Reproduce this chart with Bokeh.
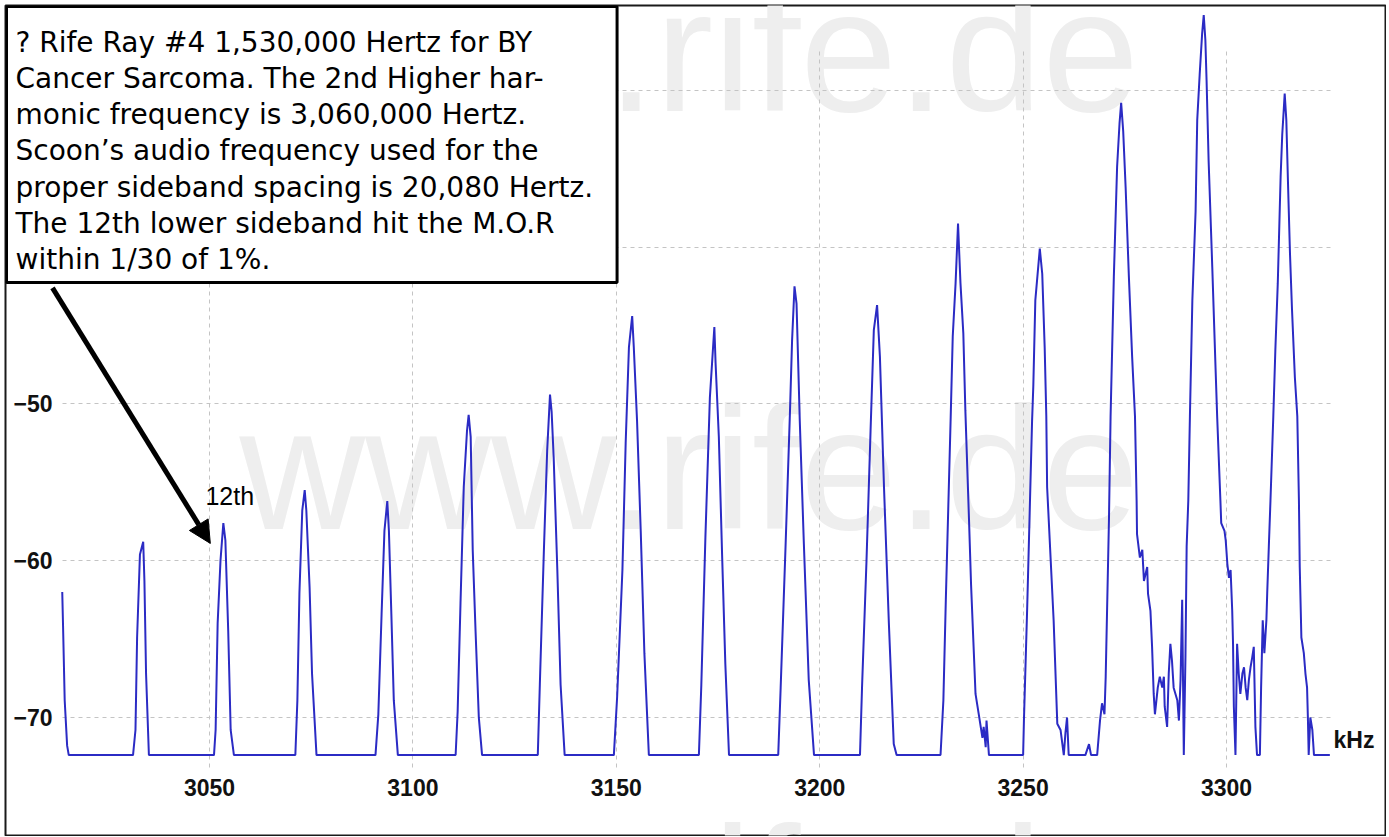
from bokeh.plotting import figure
from bokeh.models import Label, Arrow, NormalHead, FixedTicker, Range1d
from bokeh.embed import file_html
from bokeh.resources import INLINE

# Spectrum trace: frequency (kHz) and level (dB)
freq_khz = [
    3013.8, 3014.0, 3014.4, 3015.0, 3015.4,
    3031.2, 3031.8, 3032.2, 3032.9, 3033.7, 3034.0, 3034.4, 3035.1,
    3051.1, 3051.5, 3052.0, 3052.7, 3053.4, 3053.9, 3054.6, 3055.2, 3056.0,
    3071.1, 3071.6, 3072.1, 3072.8, 3073.4, 3073.8, 3074.6, 3075.2, 3076.3,
    3090.8, 3091.5, 3092.3, 3093.0, 3093.7, 3094.1, 3094.7, 3095.3, 3096.3,
    3110.5, 3111.0, 3111.7, 3112.5, 3113.3, 3113.7, 3114.2, 3114.7, 3115.4, 3116.2, 3117.0,
    3130.7, 3131.2, 3132.2, 3133.0, 3133.7, 3134.1, 3134.6, 3135.5, 3136.3, 3137.3,
    3149.4, 3150.2, 3151.5, 3152.3, 3153.1, 3153.9, 3154.3, 3155.1, 3156.0, 3156.9, 3158.0,
    3170.3, 3170.9, 3171.9, 3173.0, 3174.1, 3174.4, 3175.2, 3176.0, 3176.8, 3177.7,
    3189.8, 3190.4, 3191.6, 3192.7, 3193.2, 3193.8, 3194.3, 3195.1, 3196.1, 3197.3, 3198.6,
    3209.9, 3210.4, 3211.5, 3212.5, 3213.3, 3214.1, 3214.8, 3215.8, 3217.0, 3218.2, 3218.9,
    3229.7, 3230.4, 3231.0, 3232.2, 3232.7, 3233.4, 3234.0, 3234.6, 3235.3, 3235.8, 3236.7,
    3237.2, 3238.3, 3239.1, 3240.0, 3240.3, 3240.8, 3241.0, 3241.6,
    3250.0, 3250.2, 3251.0, 3252.2, 3252.5, 3253.0, 3254.1, 3254.7, 3255.3, 3255.7, 3255.9,
    3257.5, 3258.4, 3259.2, 3260.0, 3260.4, 3260.8, 3261.2, 3265.3, 3266.2, 3266.7, 3268.2,
    3268.9, 3269.4, 3270.0, 3270.3,
    3271.1, 3271.5, 3272.3, 3273.1, 3273.7, 3274.1, 3274.6, 3275.2, 3276.0, 3276.8, 3277.5,
    3277.9, 3278.0, 3278.7, 3279.3, 3279.7, 3280.5, 3280.7, 3281.3, 3281.7, 3282.1, 3282.4,
    3283.1, 3283.6, 3284.2, 3284.6, 3284.8, 3285.4, 3285.8, 3286.2, 3286.6, 3287.0, 3287.9,
    3288.3, 3288.7, 3289.1, 3289.5, 3289.9, 3290.2, 3290.6,
    3291.0, 3291.6, 3292.4, 3292.8, 3293.4, 3294.0, 3294.4, 3294.8, 3295.1, 3295.6, 3296.5,
    3297.3, 3297.7, 3298.5, 3298.7, 3299.5, 3299.8, 3300.2, 3300.6, 3301.0, 3301.4, 3301.6,
    3301.8, 3302.2, 3302.6, 3303.0, 3303.4, 3303.9, 3304.3, 3304.7, 3305.1, 3305.5, 3305.9,
    3306.3, 3306.7, 3307.1, 3307.5, 3308.2, 3308.5, 3308.9, 3309.3, 3309.8, 3310.0, 3310.4,
    3310.8,
    3311.5, 3312.0, 3312.6, 3313.3, 3313.7, 3314.1, 3314.3, 3314.7, 3315.1, 3315.6, 3316.1,
    3316.8, 3317.4, 3317.8, 3318.0, 3318.4, 3319.0, 3319.4, 3319.8, 3320.0, 3320.2, 3320.6,
    3321.1, 3321.5, 3325.4,
]
level_db = [
    -62.0, -64.2, -68.9, -71.8, -72.4,
    -72.4, -70.8, -64.9, -59.6, -58.8, -61.3, -67.2, -72.4,
    -72.4, -70.8, -64.0, -60.0, -57.6, -58.7, -64.5, -70.8, -72.4,
    -72.4, -68.9, -62.1, -56.8, -55.5, -56.8, -61.7, -67.2, -72.4,
    -72.4, -69.8, -63.4, -58.1, -56.2, -58.1, -63.4, -68.9, -72.4,
    -72.4, -69.6, -62.7, -55.3, -51.7, -50.7, -52.1, -59.3, -64.5, -70.0, -72.4,
    -72.4, -67.9, -59.3, -53.0, -49.4, -50.5, -53.4, -60.6, -67.9, -72.4,
    -72.4, -68.7, -60.6, -52.5, -46.4, -44.4, -46.4, -51.1, -58.1, -65.9, -72.4,
    -72.4, -67.9, -58.5, -49.6, -45.1, -47.4, -52.1, -59.6, -66.6, -72.4,
    -72.4, -68.1, -59.1, -50.4, -46.0, -42.5, -43.6, -51.1, -58.9, -67.6, -72.4,
    -72.4, -68.1, -60.0, -51.7, -45.3, -43.7, -47.0, -55.3, -64.0, -71.7, -72.4,
    -72.4, -68.9, -62.5, -50.8, -45.7, -42.3, -38.5, -42.3, -45.5, -50.4, -57.4,
    -61.5, -68.5, -69.8, -71.3, -70.6, -71.9, -70.2, -72.4,
    -72.4, -70.2, -63.0, -51.1, -48.9, -43.4, -40.1, -41.7, -46.4, -50.8, -55.3,
    -63.8, -70.4, -70.8, -72.4, -71.0, -70.0, -72.4, -72.4, -71.7, -72.4, -72.4,
    -70.2, -69.1, -69.8, -67.4,
    -57.4, -50.8, -41.9, -34.9, -32.1, -30.8, -32.6, -36.2, -41.9, -47.0, -50.8,
    -56.2, -58.3, -59.8, -59.3, -61.3, -60.4, -62.1, -63.2, -65.5, -68.5, -69.8,
    -68.1, -67.4, -68.1, -67.4, -69.3, -70.6, -67.2, -65.3, -66.4, -68.1, -68.9,
    -70.2, -67.6, -62.5, -72.4, -66.2, -59.1, -56.2,
    -50.8, -43.4, -37.7, -31.9, -29.0, -26.4, -25.2, -26.8, -29.4, -34.5, -41.3,
    -47.7, -50.8, -56.2, -57.6, -58.1, -58.7, -60.2, -61.1, -60.6, -63.2, -65.3,
    -69.3, -72.4, -65.3, -67.2, -68.5, -67.2, -66.8, -68.1, -68.9, -67.6, -66.8,
    -66.2, -65.5, -70.6, -72.4, -72.4, -68.1, -63.8, -65.9, -63.8, -62.1, -59.1,
    -56.2,
    -50.8, -46.6, -42.3, -35.5, -32.8, -31.1, -30.2, -31.9, -35.8, -40.4, -44.0,
    -48.3, -50.8, -56.2, -60.4, -64.9, -65.9, -67.2, -68.1, -70.0, -72.4, -70.0,
    -70.8, -72.4, -72.4,
]

x_ticks = [3050, 3100, 3150, 3200, 3250, 3300]
y_ticks = [-70, -60, -50, -40, -30]

# extent of the analyser's plotting area (data units)
area_f = (3013.86, 3325.56)
area_db_low = -73.19
grid_db_high = -27.3

note_lines = [
    "? Rife Ray #4 1,530,000 Hertz for BY",
    "Cancer Sarcoma. The 2nd Higher har-",
    "monic frequency is 3,060,000 Hertz.",
    "Scoon\u2019s audio frequency used for the",
    "proper sideband spacing is 20,080 Hertz.",
    "The 12th lower sideband hit the M.O.R",
    "within 1/30 of 1%.",
]
watermark_text = "www.rife.de"
marker_text = "12th"
unit_text = "kHz"

p = figure(
    width=1382, height=832,
    x_range=Range1d(2999.85, 3339.08), y_range=Range1d(-77.53, -24.59),
    output_backend="svg", toolbar_location=None, title=None,
    min_border_left=1, min_border_right=1, min_border_top=1, min_border_bottom=1,
)
p.styles = {"margin": "4px 0px 0px 4px"}
p.background_fill_color = "white"
p.border_fill_color = "white"
p.outline_line_color = "#1a1a1a"
p.outline_line_width = 2

for ax in (p.xaxis[0], p.yaxis[0]):
    ax.axis_line_color = None
    ax.major_tick_line_color = None
    ax.minor_tick_line_color = None
    ax.major_label_text_font = "Liberation Sans"
    ax.major_label_text_font_style = "bold"
    ax.major_label_text_font_size = "23px"
    ax.major_label_text_color = "#111111"
p.xaxis.ticker = FixedTicker(ticks=x_ticks)
p.yaxis.ticker = FixedTicker(ticks=y_ticks)
p.xaxis.fixed_location = area_db_low
p.yaxis.fixed_location = area_f[0]
p.xaxis.major_label_standoff = 6
p.yaxis.major_label_standoff = 4

for g in (p.xgrid[0], p.ygrid[0]):
    g.grid_line_color = "#c4c4c4"
    g.grid_line_dash = "4 4"
    g.grid_line_width = 1
try:
    p.xgrid.cross_bounds = (area_db_low, grid_db_high)
    p.ygrid.cross_bounds = area_f
except Exception:
    pass

# watermark (behind everything)
for mid_y in (-27.45, -54.15, -80.9):
    p.add_layout(Label(
        x=3057.4, y=mid_y, text=watermark_text, level="image",
        text_font="Liberation Sans", text_font_size="174px",
        text_color="#eeeeee", text_baseline="middle", text_align="left",
    ))

p.line(freq_khz, level_db, line_color="#2b2bc4", line_width=2)

# annotation box
p.add_layout(Label(
    x=3000.1, y=-24.66, text="\n".join(note_lines),
    text_font="DejaVu Sans", text_font_size="28px", text_color="black",
    text_line_height=1.10, text_align="left", text_baseline="top",
    background_fill_color="white", border_line_color="black", border_line_width=3,
    padding=(9, 24, 19, 6),
))

p.add_layout(Arrow(
    end=NormalHead(size=22, fill_color="black", line_color="black"),
    x_start=3011.4, y_start=-42.6, x_end=3050.2, y_end=-58.9,
    line_width=5, line_color="black",
))

p.add_layout(Label(
    x=3049.0, y=-55.86, text=marker_text, text_font="Liberation Sans",
    text_font_size="25px", text_color="black", text_baseline="middle",
))
p.add_layout(Label(
    x=3326.3, y=-71.47, text=unit_text, text_font="Liberation Sans",
    text_font_style="bold", text_font_size="23px", text_color="#111111",
    text_baseline="middle",
))

open("out.html", "w").write(file_html(p, INLINE))
